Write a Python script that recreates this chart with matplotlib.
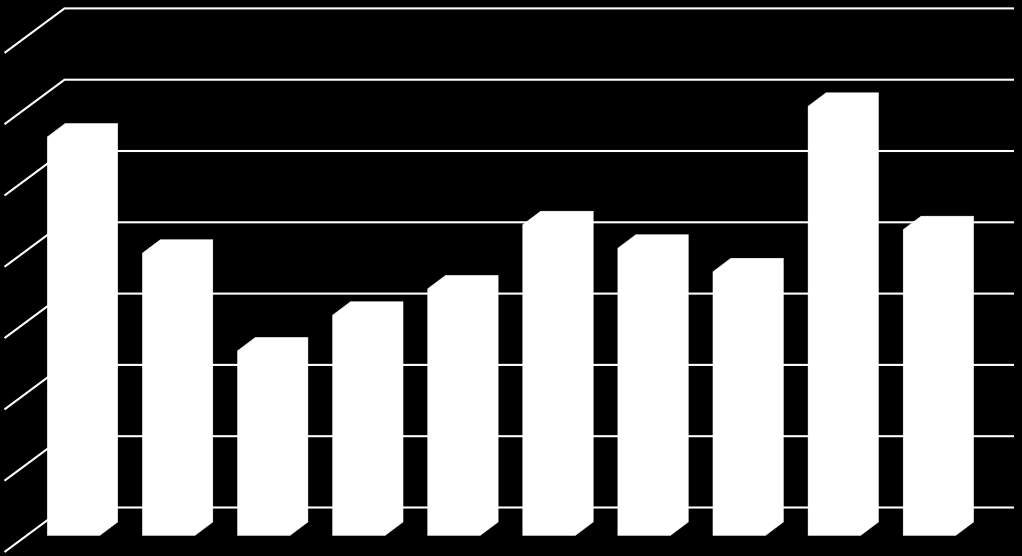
import matplotlib
matplotlib.use("Agg")
import matplotlib.pyplot as plt

# Values (in gridline units)
categories = list(range(10))
values = [5.59, 3.96, 2.59, 3.09, 3.46, 4.36, 4.03, 3.70, 6.02, 4.29]
grid_levels = [0, 1, 2, 3, 4, 5, 6, 7]

W, H = 1022, 556
X_UNIT, Y_UNIT = 95.1, 71.3       # pixels per category / per value
X0_PX, Y0_PX = 73.5, 507.5        # pixel of category 0 front centre / back-wall zero

def dx(px):
    return px / X_UNIT

def dy(px):
    return px / Y_UNIT

fig = plt.figure(figsize=(W / 100, H / 100), dpi=100, facecolor="black")
ax = fig.add_axes([0, 0, 1, 1], facecolor="black")
ax.set_xlim(-X0_PX / X_UNIT, (W - X0_PX) / X_UNIT)
ax.set_ylim(-(H - Y0_PX) / Y_UNIT, Y0_PX / Y_UNIT)
ax.axis("off")

# Back wall gridlines and floor/side diagonals
wall_left = dx(64.5 - X0_PX)
wall_right = dx(1014 - X0_PX)
for lv in grid_levels:
    ax.plot([wall_left + dx(-60), wall_left, wall_right],
            [lv - dy(44.5), lv, lv],
            color="white", lw=1.5, solid_joinstyle="miter",
            solid_capstyle="butt", zorder=1)

# 3D columns: a single silhouette of the front face and its depth extrusion
bar_w = dx(52.5)
base = -dy(28)
depth_x, depth_y = dx(18), dy(13.5)
for c, v in zip(categories, values):
    l, r = c - bar_w / 2, c + bar_w / 2
    top = base + v
    ax.fill([l, r, r + depth_x, r + depth_x, l + depth_x, l],
            [base, base, base + depth_y, top + depth_y, top + depth_y, top],
            facecolor="white", edgecolor="white", lw=0.3, zorder=3)

fig.savefig("out.png", dpi=100, facecolor="black")
